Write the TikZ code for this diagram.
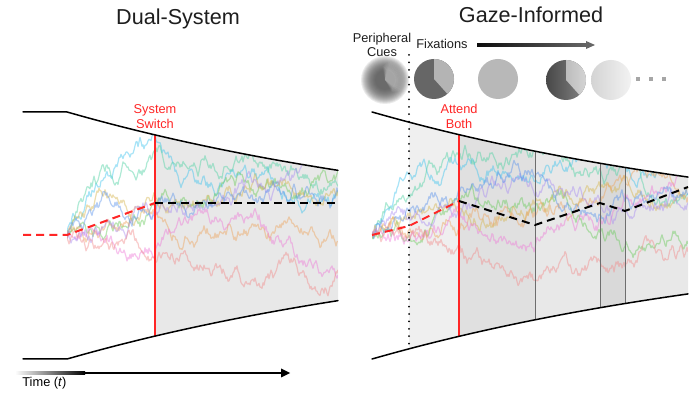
\documentclass[tikz,border=0pt]{standalone}
\usepackage{fontspec}
\setmainfont{Liberation Sans}
\usetikzlibrary{arrows.meta}
\definecolor{cred}{HTML}{FF2626}
\definecolor{shA}{HTML}{E8E8E8}
\definecolor{shL}{HTML}{EFEFEF}
\definecolor{shD}{HTML}{E0E0E0}
\definecolor{shDD}{HTML}{D9D9D9}
\definecolor{vgray}{HTML}{6E6E6E}
\definecolor{tcyan}{HTML}{3FC4EE}
\definecolor{tteal}{HTML}{4FD2A4}
\definecolor{tgreen}{HTML}{6ACB5C}
\definecolor{tgold}{HTML}{D6B54E}
\definecolor{torange}{HTML}{EDA45E}
\definecolor{tpink}{HTML}{EE7BD8}
\definecolor{tpurple}{HTML}{A98CF2}
\definecolor{tsalmon}{HTML}{F28C8C}
\definecolor{tblue}{HTML}{5C94EC}
\definecolor{txt}{HTML}{1E1E1E}
\definecolor{blurc}{HTML}{505050}
\definecolor{pdark}{HTML}{666666}
\definecolor{plight}{HTML}{B4B4B4}
\definecolor{pplain}{HTML}{B8B8B8}

\newcommand\rwalk[4]{%
  \xdef\wy{235}%
  \xdef\wpath{(#2,235)}%
  \foreach \xx in {#2,...,#3}{%
    \pgfmathsetmacro\tgt{#4}%
    \pgfmathsetmacro\wnext{\wy+0.035*(\tgt-\wy)+5.2*rand}%
    \xdef\wy{\wnext}%
    \xdef\wpath{\wpath (\xx,\wy)}%
  }%
  \draw[walk,#1] plot coordinates {\wpath};%
}

\begin{document}
\begin{tikzpicture}[x=0.5pt,y=-0.5pt,
  declare function={upL(\t)=112+129*(1-exp(-(\t-67)/450));
                    loL(\t)=359-129*(1-exp(-(\t-67)/450));
                    upR(\t)=112+129*(1-exp(-(\t-372)/450));
                    loR(\t)=359-129*(1-exp(-(\t-372)/450));},
  bound/.style={line width=0.75pt, black, line cap=round},
  walk/.style={line width=0.6pt, opacity=0.45, line join=round},
  redline/.style={line width=0.8pt, cred},
  gline/.style={line width=0.5pt, vgray},
  meandash/.style={line width=1pt, dash pattern=on 4pt off 2.6pt},
  title/.style={font=\fontsize{10.8}{12}\selectfont, text=txt, anchor=base, inner sep=0pt},
  lab/.style={font=\fontsize{6.4}{7.5}\selectfont, anchor=base, inner sep=0pt},
]
\useasboundingbox (0,0) rectangle (700,399);
\fill[white] (0,0) rectangle (700,399);

% ---------- titles ----------
\node[title] (tl) at (178,25) {Dual-System};
\node[title] (tr) at (531,23) {Gaze-Informed};

% ---------- left panel ----------
\fill[shA] plot[domain=155:338,samples=30] (\x,{upL(\x)}) -- plot[domain=338:155,samples=30] (\x,{loL(\x)}) -- cycle;

\pgfmathsetseed{42}
\begin{scope}
  \clip (67,112) -- plot[domain=67:338,samples=40] (\x,{upL(\x)}) -- plot[domain=338:67,samples=40] (\x,{loL(\x)}) -- cycle;
  \rwalk{tcyan}{67}{338}{\xx<155?150:205}
  \rwalk{tteal}{67}{338}{\xx<155?155:(\xx<230?150:175)}
  \rwalk{tgreen}{67}{338}{\xx<155?215:185}
  \rwalk{tgold}{67}{338}{\xx<155?200:195}
  \rwalk{torange}{67}{338}{\xx<155?215:220}
  \rwalk{tpink}{67}{338}{\xx<155?235:(\xx<260?215:265)}
  \rwalk{tpurple}{67}{338}{\xx<155?220:185}
  \rwalk{tsalmon}{67}{338}{\xx<155?255:(\xx<210?245:275)}
  \rwalk{tblue}{67}{338}{\xx<155?205:200}
\end{scope}

\draw[redline] (155,{upL(155)}) -- (155,{loL(155)});
\draw[bound] (23,112) -- (67,112) -- plot[domain=67:338,samples=40] (\x,{upL(\x)});
\draw[bound] (23,359) -- (67,359) -- plot[domain=67:338,samples=40] (\x,{loL(\x)});
\draw[meandash, cred] (23,235) -- (67,235) -- (155,203);
\draw[meandash, black] (155,203) -- (338,203);

\node[lab, text=cred] (sw1) at (155,114) {System};
\node[lab, text=cred] (sw2) at (155,129) {Switch};

% time arrow
\coordinate (ta0) at (15,373);
\coordinate (ta1) at (290,373);
\shade[left color=white, right color=black] (15,371.7) rectangle (85,374.3);
\fill[black] (84.5,371.7) rectangle (282,374.3);
\fill[black] (281,368.5) -- (ta1) -- (281,377.5) -- cycle;
\node[lab, anchor=base west] (time) at (22,387) {Time (\textit{t})};

% ---------- right panel ----------
\foreach \a/\b/\c in {409/459/shL, 459/535/shD, 535/600/shA, 600/625/shDD, 625/688/shA}
  \fill[\c] plot[domain=\a:\b,samples=10] (\x,{upR(\x)}) -- plot[domain=\b:\a,samples=10] (\x,{loR(\x)}) -- cycle;

\pgfmathsetseed{2024}
\begin{scope}
  \clip (372,112) -- plot[domain=372:688,samples=40] (\x,{upR(\x)}) -- plot[domain=688:372,samples=40] (\x,{loR(\x)}) -- cycle;
  \rwalk{tcyan}{372}{688}{\xx<409?170:(\xx<535?162:150)}
  \rwalk{tteal}{372}{688}{\xx<459?160:(\xx<535?152:(\xx<625?180:200))}
  \rwalk{tgreen}{372}{688}{\xx<459?225:(\xx<600?205:(\xx<625?235:225))}
  \rwalk{tgold}{372}{688}{\xx<459?205:(\xx<535?200:195)}
  \rwalk{torange}{372}{688}{\xx<459?215:(\xx<600?215:190)}
  \rwalk{tpink}{372}{688}{\xx<459?235:(\xx<535?255:(\xx<600?215:195))}
  \rwalk{tpurple}{372}{688}{\xx<459?220:(\xx<535?190:200)}
  \rwalk{tsalmon}{372}{688}{\xx<409?245:(\xx<459?250:(\xx<535?285:(\xx<625?265:255)))}
  \rwalk{tblue}{372}{688}{\xx<459?200:(\xx<535?185:205)}
\end{scope}

\foreach \v in {535,600,625} \draw[gline] (\v,{upR(\v)}) -- (\v,{loR(\v)});
\draw[redline] (459,{upR(459)}) -- (459,{loR(459)});
\draw[line width=1pt, dash pattern=on 0pt off 3.7pt, line cap=round] (409,55) -- (409,{loR(409)});
\draw[bound] plot[domain=372:688,samples=50] (\x,{upR(\x)});
\draw[bound] plot[domain=372:688,samples=50] (\x,{loR(\x)});
\draw[meandash, cred] (372,235) -- (409,226) -- (459,201);
\draw[meandash, black] (459,201) -- (535,225) -- (600,203) -- (625,211) -- (688,187);

\node[lab, text=cred] (ab1) at (459,114) {Attend};
\node[lab, text=cred] (ab2) at (459,129) {Both};

\node[lab, text=txt] (pc1) at (382,43) {Peripheral};
\node[lab, text=txt] (pc2) at (382,57) {Cues};
\node[lab, text=txt] (fx) at (442,49) {Fixations};

% fixations arrow
\coordinate (fa0) at (477,45);
\coordinate (fa1) at (595,45);
\shade[left color=black!95, right color=black!60] (477,43.8) rectangle (587,46.2);
\fill[black!60] (586,41) -- (fa1) -- (586,49) -- cycle;

% blurred peripheral circle
\foreach \rr in {24,23,...,10} \fill[blurc, opacity=0.11] (385,80) circle (\rr);
\foreach \rr/\aa/\bb in {19/-75/35, 18/-80/40, 17/-85/45, 16/-90/50, 15/-95/55, 14/-100/60, 13/-95/55, 12/-90/50, 11/-85/45}
  \fill[white, opacity=0.06] (385,80) -- ++(\aa:\rr) arc[start angle=\aa, end angle=\bb, radius=\rr] -- cycle;

% fixation pies
\fill[pdark] (434,79) circle (20);
\fill[plight] (434,79) -- ++(-90:20) arc[start angle=-90, end angle=48, radius=20] -- cycle;
\fill[pplain] (498,79) circle (20);
\shade[left color=black!72, right color=black!48] (566,80) circle (20);
\shade[left color=black!26, right color=black!17] (566,80) -- ++(-90:20) arc[start angle=-90, end angle=48, radius=20] -- cycle;
\shade[left color=black!17, right color=black!5] (611,80) circle (20);
\foreach \d in {638,651,664} \fill[black!35] (\d-2,77) rectangle (\d+2,81);
\end{tikzpicture}
\end{document}
